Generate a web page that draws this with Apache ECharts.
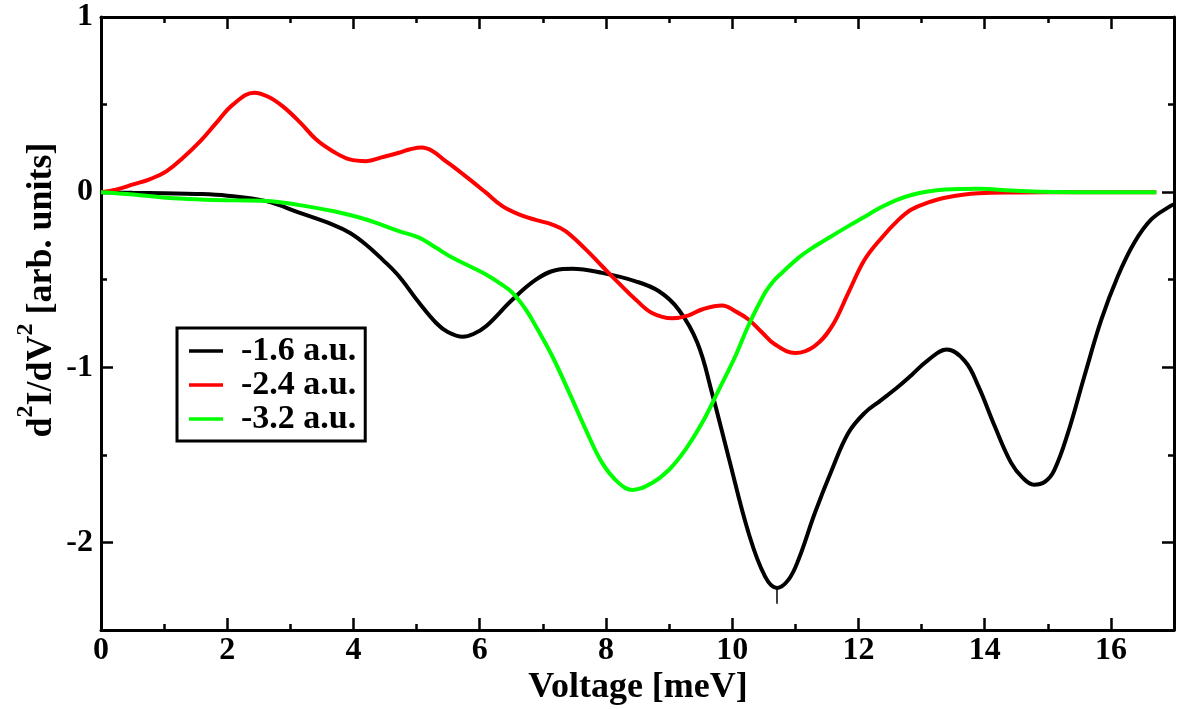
<!DOCTYPE html>
<html>
<head>
<meta charset="utf-8">
<script src="https://cdn.jsdelivr.net/npm/echarts@6/dist/echarts.min.js"></script>
<style>
html,body{margin:0;padding:0;background:#fff;}
#chart{width:1177px;height:709px;}
</style>
</head>
<body>
<div id="chart"></div>
<script>
// ---- data ----
const seriesNames = ['-1.6 a.u.', '-2.4 a.u.', '-3.2 a.u.'];
const blackV = [0, 0.5, 1.0, 1.5, 2.0, 2.6, 3.15, 3.67, 3.94, 4.2, 4.46, 4.72, 5.04, 5.31, 5.5, 5.73, 5.9, 6.1, 6.52, 6.89, 7.2, 7.47, 7.94, 8.47, 8.84, 9.15, 9.45, 9.68, 9.94, 10.26, 10.52, 10.71, 10.89, 11.05, 11.31, 11.58, 11.84, 12.1, 12.35, 12.6, 12.84, 13.1, 13.4, 13.69, 13.9, 14.16, 14.42, 14.6, 14.78, 14.95, 15.1, 15.32, 15.58, 15.85, 16.11, 16.37, 16.64, 16.94, 17];
const blackY = [0, -0.004, -0.007, -0.01, -0.02, -0.05, -0.118, -0.185, -0.232, -0.3, -0.385, -0.48, -0.632, -0.747, -0.8, -0.826, -0.81, -0.766, -0.613, -0.5, -0.446, -0.438, -0.461, -0.509, -0.566, -0.67, -0.861, -1.146, -1.509, -1.946, -2.194, -2.26, -2.214, -2.099, -1.832, -1.585, -1.375, -1.26, -1.19, -1.12, -1.045, -0.96, -0.899, -0.966, -1.108, -1.337, -1.546, -1.63, -1.67, -1.655, -1.59, -1.375, -1.051, -0.727, -0.48, -0.289, -0.156, -0.08, -0.07];
// thin glitch under the black minimum
const spikeV = [10.71, 10.71];
const spikeY = [-2.26, -2.35];
const redV = [0, 0.25, 0.51, 0.77, 1.04, 1.3, 1.57, 1.83, 2.09, 2.43, 2.65, 2.88, 3.15, 3.41, 3.67, 3.94, 4.2, 4.46, 4.72, 4.9, 5.08, 5.25, 5.46, 5.57, 5.84, 6.1, 6.36, 6.62, 6.9, 7.15, 7.36, 7.68, 7.94, 8.2, 8.47, 8.73, 9.05, 9.3, 9.52, 9.84, 10.05, 10.26, 10.47, 10.68, 11.0, 11.3, 11.58, 11.84, 12.1, 12.37, 12.63, 12.84, 13.1, 13.37, 13.9, 14.5, 15.5, 16.72];
const redY = [0, 0.015, 0.044, 0.073, 0.12, 0.197, 0.29, 0.397, 0.5, 0.568, 0.545, 0.49, 0.4, 0.3, 0.234, 0.187, 0.177, 0.2, 0.225, 0.245, 0.255, 0.235, 0.177, 0.149, 0.073, -0.003, -0.08, -0.127, -0.16, -0.185, -0.223, -0.327, -0.423, -0.518, -0.613, -0.69, -0.72, -0.705, -0.67, -0.647, -0.68, -0.727, -0.8, -0.87, -0.918, -0.88, -0.766, -0.575, -0.385, -0.26, -0.16, -0.099, -0.06, -0.032, -0.007, -0.002, 0, 0];
const greenV = [0, 0.51, 1.04, 1.57, 2.09, 2.62, 3.15, 3.67, 4.2, 4.72, 5.04, 5.31, 5.57, 5.84, 6.1, 6.31, 6.52, 6.73, 6.89, 7.15, 7.42, 7.68, 7.94, 8.2, 8.42, 8.73, 9.0, 9.26, 9.52, 9.79, 10.05, 10.26, 10.52, 10.65, 10.79, 11.05, 11.31, 11.58, 11.84, 12.1, 12.35, 12.6, 12.84, 13.1, 13.37, 13.9, 14.42, 14.95, 15.5, 16.72];
const greenY = [0, -0.013, -0.032, -0.042, -0.047, -0.05, -0.074, -0.108, -0.156, -0.223, -0.26, -0.318, -0.375, -0.423, -0.47, -0.518, -0.575, -0.67, -0.766, -0.937, -1.146, -1.356, -1.546, -1.66, -1.7, -1.66, -1.585, -1.47, -1.32, -1.127, -0.937, -0.76, -0.575, -0.51, -0.46, -0.375, -0.309, -0.25, -0.194, -0.14, -0.088, -0.045, -0.016, 0.004, 0.015, 0.019, 0.01, 0.002, 0, 0];
const xMajorTicks = [0, 2, 4, 6, 8, 10, 12, 14, 16];
const yMajorTicks = [-2, -1, 0, 1];
const xTitle = 'Voltage [meV]';

const FONT = '"Liberation Serif", "Times New Roman", serif';
const pairs = (xs, ys) => xs.map((x, i) => [x, ys[i]]);

const chart = echarts.init(document.getElementById('chart'));

function xAxisDef(pos, major) {
  return {
    type: 'value', position: pos, min: 0, max: 17,
    interval: major ? 2 : 1,
    axisLine: { show: major, onZero: false, lineStyle: { color: '#000', width: 3 } },
    axisTick: major
      ? { show: true, inside: true, length: 12, lineStyle: { color: '#000', width: 2.5 }, customValues: xMajorTicks }
      : { show: true, inside: true, length: 6, lineStyle: { color: '#000', width: 2.5 } },
    axisLabel: (major && pos === 'bottom')
      ? { show: true, margin: 5, color: '#000', fontFamily: FONT, fontWeight: 'bold', fontSize: 32, customValues: xMajorTicks }
      : { show: false },
    splitLine: { show: false }
  };
}
function yAxisDef(pos, major) {
  return {
    type: 'value', position: pos, min: -2.5, max: 1,
    interval: 0.5,
    axisLine: { show: major, onZero: false, lineStyle: { color: '#000', width: 3 } },
    axisTick: major
      ? { show: true, inside: true, length: 12, lineStyle: { color: '#000', width: 2.5 }, customValues: yMajorTicks }
      : { show: true, inside: true, length: 6, lineStyle: { color: '#000', width: 2.5 } },
    axisLabel: (major && pos === 'left')
      ? { show: true, margin: 8, color: '#000', fontFamily: FONT, fontWeight: 'bold', fontSize: 32, customValues: yMajorTicks }
      : { show: false },
    splitLine: { show: false }
  };
}

const colors = ['#000000', '#ff0000', '#00ff00'];
const datasets = [pairs(blackV, blackY), pairs(redV, redY), pairs(greenV, greenY)];

const series = datasets.map((d, i) => ({
  name: seriesNames[i], type: 'line', data: d,
  xAxisIndex: 2, yAxisIndex: 2,
  smooth: 0.4, symbol: 'none',
  lineStyle: { color: colors[i], width: 4 },
  itemStyle: { color: colors[i] },
  z: 2 + i
}));
series.push({
  name: 'glitch', type: 'line', data: pairs(spikeV, spikeY),
  xAxisIndex: 2, yAxisIndex: 2, symbol: 'none',
  lineStyle: { color: '#000', width: 1.5 }, z: 2
});

chart.setOption({
  animation: false,
  backgroundColor: '#fff',
  grid: { left: 101, right: 3, top: 17, bottom: 79, containLabel: false },
  xAxis: [xAxisDef('bottom', false), xAxisDef('top', false), xAxisDef('bottom', true), xAxisDef('top', true)],
  yAxis: [yAxisDef('left', false), yAxisDef('right', false), yAxisDef('left', true), yAxisDef('right', true)],
  legend: {
    show: true, orient: 'vertical', left: 177, top: 328,
    data: seriesNames,
    icon: 'rect', itemWidth: 34, itemHeight: 3.5, itemGap: 0,
    padding: [6, 9, 5, 12],
    borderColor: '#000', borderWidth: 3, backgroundColor: '#fff',
    textStyle: { color: '#000', fontFamily: FONT, fontWeight: 'bold', fontSize: 34, lineHeight: 32.5, padding: [0, 0, 0, 13] }
  },
  graphic: [
    {
      type: 'text', x: 638, y: 688,
      style: { text: xTitle, fill: '#000', font: 'bold 36px ' + FONT, align: 'center', verticalAlign: 'middle' }
    },
    {
      type: 'text', x: 42, y: 290, rotation: Math.PI / 2,
      style: {
        text: '{n|d}{s|2}{n|I/dV}{s|2}{n| [arb. units]}',
        fill: '#000', align: 'center', verticalAlign: 'middle',
        rich: {
          n: { fontSize: 36, fontWeight: 'bold', fontFamily: FONT, lineHeight: 56, verticalAlign: 'middle', fill: '#000' },
          s: { fontSize: 24, fontWeight: 'bold', fontFamily: FONT, lineHeight: 24, verticalAlign: 'top', fill: '#000' }
        }
      }
    }
  ],
  series: series
});
</script>
</body>
</html>
